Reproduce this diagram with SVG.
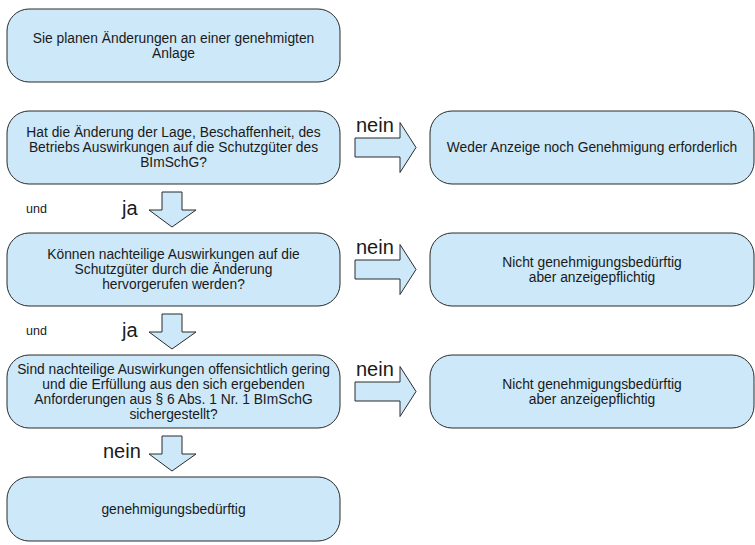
<svg xmlns="http://www.w3.org/2000/svg" width="755" height="545" viewBox="0 0 755 545">
<style>
.box{fill:#cde8f8;stroke:#2a2a2a;stroke-width:1}
.arr{fill:#cde8f8;stroke:#2a2a2a;stroke-width:1;stroke-linejoin:miter}
.t{font-family:"Liberation Sans",Arial,sans-serif;font-size:13.8px;fill:#1a1a1a;text-anchor:middle}
.lbl{font-family:"Liberation Sans",Arial,sans-serif;font-size:20px;fill:#1a1a1a}
.und{font-family:"Liberation Sans",Arial,sans-serif;font-size:12.5px;fill:#1a1a1a}
</style>
<rect width="755" height="545" fill="#fff"/>
<g id="connectors">
<polygon class="arr" points="355,138 400,138 400,122.5 416,147.5 400,172.5 400,157 355,157"/>
<polygon class="arr" points="355,260 400,260 400,244.5 416,269.5 400,294.5 400,279 355,279"/>
<polygon class="arr" points="355,382 400,382 400,366.5 416,391.5 400,416.5 400,401 355,401"/>
<polygon class="arr" points="162,192 182,192 182,210 196,210 172,227 149,210 162,210"/>
<polygon class="arr" points="162,314 182,314 182,332 196,332 172,349 149,332 162,332"/>
<polygon class="arr" points="162,436 182,436 182,454 196,454 172,471 149,454 162,454"/>
<text class="lbl" x="356" y="131.5">nein</text>
<text class="lbl" x="356" y="253.5">nein</text>
<text class="lbl" x="356" y="375.5">nein</text>
<text class="lbl" x="122" y="215" font-size="21">ja</text>
<text class="lbl" x="122" y="337" font-size="21">ja</text>
<text class="lbl" x="103" y="458">nein</text>
<text class="und" x="26" y="213">und</text>
<text class="und" x="26" y="335">und</text>
</g>
<g id="start">
<rect class="box" x="7" y="9" width="333" height="73" rx="22"/>
<text class="t" x="173.5" y="42.8">Sie planen Änderungen an einer genehmigten</text>
<text class="t" x="173.5" y="57.8">Anlage</text>
</g>
<g id="q1">
<rect class="box" x="7" y="111" width="333" height="73" rx="22"/>
<text class="t" x="173.5" y="137.3">Hat die Änderung der Lage, Beschaffenheit, des</text>
<text class="t" x="173.5" y="152.3">Betriebs Auswirkungen auf die Schutzgüter des</text>
<text class="t" x="173.5" y="167.3">BImSchG?</text>
</g>
<g id="r1">
<rect class="box" x="430" y="111" width="324" height="73" rx="22"/>
<text class="t" x="592" y="152.3">Weder Anzeige noch Genehmigung erforderlich</text>
</g>
<g id="q2">
<rect class="box" x="7" y="233" width="333" height="73" rx="22"/>
<text class="t" x="173.5" y="259.3">Können nachteilige Auswirkungen auf die</text>
<text class="t" x="173.5" y="274.3">Schutzgüter durch die Änderung</text>
<text class="t" x="173.5" y="289.3">hervorgerufen werden?</text>
</g>
<g id="r2">
<rect class="box" x="430" y="233" width="324" height="73" rx="22"/>
<text class="t" x="592" y="266.8">Nicht genehmigungsbedürftig</text>
<text class="t" x="592" y="281.8">aber anzeigepflichtig</text>
</g>
<g id="q3">
<rect class="box" x="7" y="355" width="333" height="73" rx="22"/>
<text class="t" x="173.5" y="373.8">Sind nachteilige Auswirkungen offensichtlich gering</text>
<text class="t" x="173.5" y="388.8">und die Erfüllung aus den sich ergebenden</text>
<text class="t" x="173.5" y="403.8">Anforderungen aus § 6 Abs. 1 Nr. 1 BImSchG</text>
<text class="t" x="173.5" y="418.8">sichergestellt?</text>
</g>
<g id="r3">
<rect class="box" x="430" y="355" width="324" height="73" rx="22"/>
<text class="t" x="592" y="388.8">Nicht genehmigungsbedürftig</text>
<text class="t" x="592" y="403.8">aber anzeigepflichtig</text>
</g>
<g id="result">
<rect class="box" x="7" y="477" width="333" height="64" rx="22"/>
<text class="t" x="173.5" y="513.8">genehmigungsbedürftig</text>
</g>
</svg>
